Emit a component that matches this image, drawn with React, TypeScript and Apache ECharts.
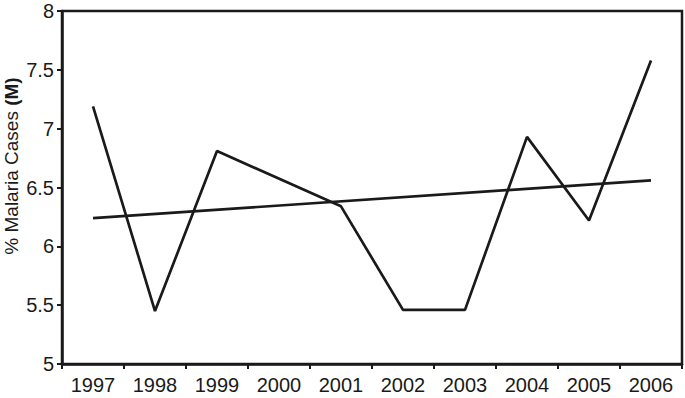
import React, { useEffect, useRef } from "react";
import * as echarts from "echarts";

const years = ["1997", "1998", "1999", "2000", "2001", "2002", "2003", "2004", "2005", "2006"];
const malaria = [7.19, 5.45, 6.81, null, 6.34, 5.46, 5.46, 6.93, 6.22, 7.58];
const trend = [6.24, null, null, null, null, null, null, null, null, 6.56];
const yTitle = "% Malaria Cases ";
const yTitleBold = "(M)";

export default function App() {
  const ref = useRef<HTMLDivElement>(null);
  useEffect(() => {
    if (!ref.current) return;
    document.body.style.margin = "0";
    const chart = echarts.init(ref.current, undefined, { renderer: "svg" });
    const font = "Liberation Sans, Arial, sans-serif";
    chart.setOption({
      animation: false,
      backgroundColor: "#fff",
      grid: { left: 62, top: 11, right: 3, bottom: 34, show: true, borderColor: "#1a1a1a", borderWidth: 2.5 },
      graphic: [
        {
          type: "text",
          x: 11,
          y: 166,
          rotation: Math.PI / 2,
          style: {
            text: "{n|" + yTitle + "}{b|" + yTitleBold + "}",
            align: "center",
            verticalAlign: "middle",
            rich: {
              n: { fontSize: 19, fontFamily: font, fill: "#1a1a1a" },
              b: { fontSize: 19, fontFamily: font, fill: "#1a1a1a", fontWeight: "bold" },
            },
          },
        },
      ],
      xAxis: {
        type: "category",
        data: years,
        boundaryGap: true,
        axisLine: { lineStyle: { color: "#1a1a1a", width: 2.5 } },
        axisTick: { show: true, length: 5, inside: false, lineStyle: { color: "#1a1a1a", width: 2 } },
        axisLabel: { color: "#1a1a1a", fontSize: 20, fontFamily: font, margin: 11 },
        splitLine: { show: false },
      },
      yAxis: {
        type: "value",
        min: 5,
        max: 8,
        interval: 0.5,
        axisLine: { show: true, lineStyle: { color: "#1a1a1a", width: 2.5 } },
        axisTick: { show: true, length: 5, lineStyle: { color: "#1a1a1a", width: 2 } },
        axisLabel: { color: "#1a1a1a", fontSize: 20, fontFamily: font, margin: 8 },
        splitLine: { show: false },
      },
      series: [
        {
          type: "line",
          data: malaria,
          connectNulls: true,
          symbol: "none",
          lineStyle: { color: "#1a1a1a", width: 2.7 },
        },
        {
          type: "line",
          data: trend,
          connectNulls: true,
          symbol: "none",
          lineStyle: { color: "#1a1a1a", width: 2.7 },
        },
      ],
    });
    return () => chart.dispose();
  }, []);
  return <div ref={ref} style={{ position: "absolute", left: 0, top: 0, width: 685, height: 398 }} />;
}
